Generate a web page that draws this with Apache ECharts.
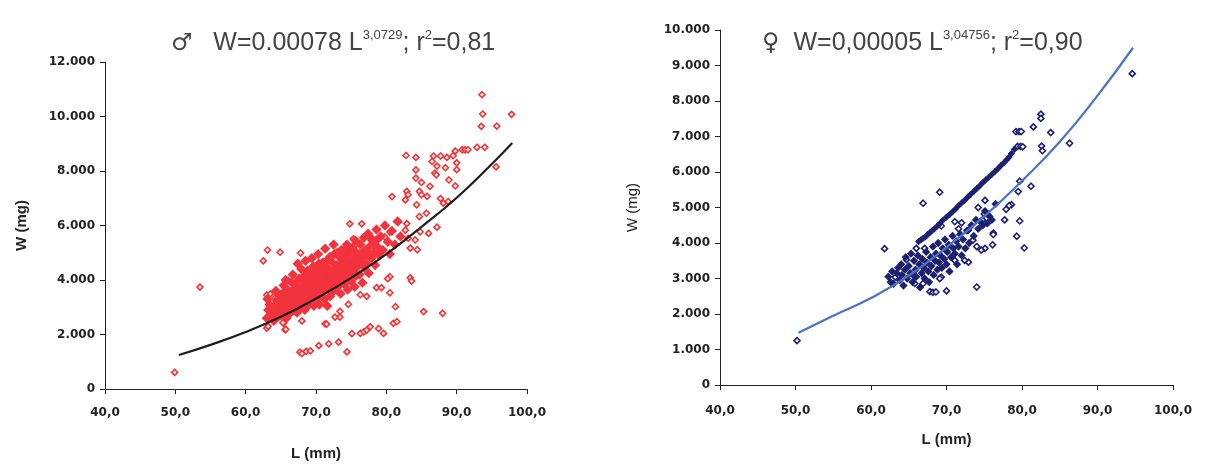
<!DOCTYPE html>
<html>
<head>
<meta charset="utf-8">
<script src="https://cdn.jsdelivr.net/npm/echarts@6/dist/echarts.min.js"></script>
<style>
  html, body { margin: 0; padding: 0; background: #fff; }
  #chart { width: 1213px; height: 467px; }
</style>
</head>
<body>
<div id="chart"></div>
<script>
// length L (mm) / weight W (mg)

// males: fitted curve
const maleFit = [
  [50.5, 1250], [55, 1620], [60, 2090], [65, 2650], [70, 3320], [75, 4080],
  [80, 4950], [85, 5950], [90, 7020], [95, 8260], [97.9, 9030]
]

// males: outliers and the sparse points round the cloud
const maleSparse = [
  [49.9, 610], [53.5, 3740],
  [93.6, 10800], [93.7, 10090], [97.8, 10080], [93.5, 9640], [95.7, 9650],
  [92.9, 8870], [94.0, 8870], [90.8, 8780], [91.2, 8780], [91.6, 8780], [95.6, 8150],
  [82.8, 8570], [84.2, 8500], [86.7, 8550], [87.7, 8550], [89.8, 8730], [89.5, 8560],
  [90.0, 8300], [90.0, 8050], [88.6, 8500], [86.5, 8350], [87.2, 8180], [88.4, 8120],
  [84.2, 8040], [86.9, 7920], [87.1, 7860], [84.2, 7740], [85.0, 7580], [86.2, 7440],
  [88.9, 7670], [89.8, 7450], [82.9, 7250], [83.1, 7130], [84.7, 7250], [85.0, 7130],
  [85.8, 7070], [80.8, 7060], [82.7, 6940], [84.3, 6760], [87.7, 6990], [88.1, 6820],
  [88.8, 6880], [85.7, 6450], [84.7, 6330], [81.7, 6130], [82.9, 6070], [74.8, 6060],
  [76.5, 6060], [87.2, 5940], [82.7, 5830], [84.8, 5770], [80.5, 5760], [86.0, 5710],
  [79.8, 5580], [83.1, 5530], [84.1, 5470], [75.3, 5510], [83.4, 5170], [84.4, 5110],
  [83.4, 4080], [83.6, 3960], [80.5, 4120], [80.2, 4050], [81.3, 3020], [85.3, 2840],
  [88.0, 2780], [80.5, 3530], [78.6, 3720], [79.3, 3720], [76.3, 3460], [77.2, 3400],
  [74.6, 3110], [73.4, 2850], [73.4, 2640],
  [62.5, 4700], [63.1, 5100], [64.9, 5020], [67.8, 4990], [67.9, 4430], [66.1, 3980],
  [63.0, 3450], [63.5, 3490], [64.2, 3350], [63.7, 2980], [64.4, 2920], [64.0, 2960],
  [65.4, 2420], [63.0, 2230], [63.2, 2300], [65.6, 2170], [65.7, 2190], [65.3, 2430],
  [68.0, 2500], [71.3, 2390], [71.5, 2380], [72.7, 2640],
  [67.7, 1350], [68.0, 1300], [68.6, 1380], [69.2, 1400], [70.4, 1590], [71.8, 1660],
  [73.2, 1720], [74.4, 1360], [75.1, 2030], [76.3, 2040], [76.8, 2100], [77.2, 2160],
  [77.7, 2280], [78.9, 2220], [79.6, 2040], [81.0, 2410], [81.5, 2470]
]

// males: the dense cloud along the curve
const maleCloud = [
  [63.0, 2600], [63.2, 2900], [63.4, 3100], [63.1, 3300], [63.6, 2750],
  [64.0, 2500], [64.2, 2800], [64.1, 3050], [64.4, 3250], [64.3, 3600], [64.6, 2650], [64.7, 2950], [64.8, 3400],
  [65.0, 2700], [65.1, 3100], [65.2, 3500], [65.4, 3800], [65.5, 2900], [65.6, 3300], [65.8, 2600], [65.9, 3650], [65.7, 4000],
  [66.0, 3000], [66.1, 3350], [66.2, 2750], [66.4, 3150], [66.5, 3550], [66.6, 3900], [66.8, 2900], [66.9, 3300], [66.7, 4200],
  [67.0, 3100], [67.1, 3500], [67.2, 3750], [67.3, 2800], [67.5, 3250], [67.6, 4050], [67.7, 3600], [67.8, 3000], [67.9, 4400], [67.4, 4600],
  [68.0, 3350], [68.1, 3800], [68.2, 3150], [68.3, 4150], [68.4, 2900], [68.5, 3550], [68.6, 3950], [68.7, 3300], [68.8, 4350], [68.9, 3700], [68.5, 4700],
  [69.0, 3100], [69.1, 3500], [69.2, 3900], [69.3, 4250], [69.4, 3350], [69.5, 3700], [69.6, 4500], [69.7, 3050], [69.8, 4050], [69.9, 3550], [69.4, 4800],
  [70.0, 3300], [70.1, 3850], [70.2, 4200], [70.3, 3600], [70.4, 4600], [70.5, 3100], [70.6, 4000], [70.7, 3450], [70.8, 4400], [70.9, 3800], [70.3, 4950],
  [71.0, 3550], [71.1, 4100], [71.2, 3300], [71.3, 4500], [71.4, 3850], [71.5, 4250], [71.6, 3050], [71.7, 4750], [71.8, 3650], [71.9, 4050], [71.3, 5150],
  [72.0, 3400], [72.1, 4300], [72.2, 3800], [72.3, 4650], [72.4, 4050], [72.5, 3600], [72.6, 4950], [72.7, 4400], [72.8, 3900], [72.9, 4200], [72.5, 5300],
  [73.0, 4550], [73.1, 3750], [73.2, 4100], [73.3, 4850], [73.4, 4350], [73.5, 3500], [73.6, 5100], [73.7, 4000], [73.8, 4650], [73.9, 4300],
  [74.0, 3850], [74.1, 4500], [74.2, 4900], [74.3, 4200], [74.4, 5300], [74.5, 3650], [74.6, 4700], [74.7, 4050], [74.8, 5050], [74.9, 4400],
  [75.0, 3950], [75.1, 4600], [75.2, 5200], [75.3, 4300], [75.4, 4850], [75.5, 3750], [75.6, 5450], [75.7, 4150], [75.8, 5000], [75.9, 4500],
  [76.0, 4700], [76.2, 4200], [76.3, 5300], [76.5, 4900], [76.6, 3900], [76.8, 5550], [76.9, 4450],
  [77.0, 5100], [77.2, 4600], [77.4, 5700], [77.5, 4250], [77.7, 5250], [77.9, 4800],
  [78.0, 5450], [78.2, 5000], [78.4, 4550], [78.6, 5850], [78.8, 5200],
  [79.0, 4900], [79.2, 5600], [79.5, 5100], [79.8, 6000], [80.2, 5400], [80.5, 4950],
  [80.8, 5800], [81.2, 5300], [81.6, 6150], [82.0, 5600],
  [65.3, 2850], [65.9, 3150], [66.3, 3450], [66.9, 3700], [67.4, 3350], [67.9, 3250],
  [68.3, 3450], [68.8, 3050], [69.2, 3300], [69.6, 3900], [70.2, 3450], [70.6, 3700],
  [71.0, 3950], [71.4, 3650], [71.8, 4400], [72.2, 4000], [72.6, 3700], [73.0, 4250],
  [73.4, 3950], [73.8, 4450], [74.2, 4100], [74.6, 4450], [75.0, 4250], [75.4, 4600],
  [75.8, 4750], [76.2, 4950], [76.6, 4600], [77.0, 4850], [77.4, 5000], [77.8, 5550],
  [78.2, 5250], [78.6, 5450], [69.0, 4150], [70.0, 4350], [71.0, 4650], [72.0, 4850],
  [73.0, 5000], [74.0, 5100], [68.0, 4000], [67.0, 3850]
]

// females: fitted curve
const femaleFit = [
  [50.4, 1470], [55, 1950], [60, 2450], [65, 3080], [70, 3880], [75, 4750],
  [80, 5750], [85, 6850], [90, 8150], [94.7, 9500]
]

// females: sparse points
const femaleSparse = [
  [50.2, 1250], [61.8, 3840], [63.2, 3040], [66.9, 5120], [69.1, 5430],
  [82.5, 7630], [82.5, 7510], [81.5, 7270], [79.2, 7140], [79.6, 7140], [79.9, 7140],
  [83.8, 7110], [86.3, 6810], [79.4, 6720], [79.8, 6720], [80.1, 6710], [82.6, 6730],
  [82.7, 6600], [94.6, 8770], [81.2, 5600], [79.7, 5740], [79.5, 5450], [78.6, 5080],
  [75.1, 5200], [74.2, 5000], [75.5, 4770], [77.7, 4650], [79.7, 4620], [79.3, 4190],
  [80.3, 3860], [76.2, 4280], [75.1, 3850], [76.1, 3950], [74.0, 2760], [70.0, 2650],
  [67.8, 2630], [68.2, 2610], [68.6, 2620], [72.9, 3460], [65.8, 3050], [66.9, 2860],
  [65.8, 2860], [64.7, 3530], [66.0, 3850], [67.1, 3850], [69.3, 4480], [71.1, 4600],
  [72.0, 4570], [72.9, 4360], [73.5, 4080], [74.0, 3900], [74.6, 3800], [76.2, 4240],
  [74.8, 4660], [75.3, 4700], [75.0, 4820], [71.6, 4400], [71.1, 3510], [72.4, 3510],
  [69.3, 3040], [69.1, 3000], [77.9, 4950], [78.3, 5050]
]

// females: the straight string of points above the curve
const femaleString = [
  [66.3, 4040], [66.6, 4090], [66.9, 4130], [67.2, 4170], [67.5, 4240], [67.8, 4290],
  [68.1, 4350], [68.4, 4400], [68.8, 4480], [69.1, 4540], [69.5, 4640], [70.0, 4730],
  [70.4, 4800], [70.8, 4880], [71.2, 4960], [71.6, 5050], [72.0, 5130], [72.4, 5200],
  [72.8, 5290], [73.2, 5370], [73.6, 5450], [74.0, 5530], [74.4, 5610], [74.8, 5700],
  [75.2, 5780], [75.6, 5850], [76.0, 5930], [76.4, 6010], [76.8, 6090], [77.2, 6180],
  [77.6, 6260], [78.0, 6350], [78.3, 6420], [78.6, 6520], [79.0, 6640]
]

// females: the dense cloud
const femaleCloud = [
  [62.3, 3050], [62.6, 2900], [62.8, 3200], [63.0, 2850],
  [63.4, 3150], [63.6, 3300], [63.8, 2950], [64.0, 3400], [64.1, 3100], [64.3, 2800], [64.5, 3250], [64.6, 3600], [64.8, 3000],
  [65.0, 3350], [65.2, 3150], [65.3, 3700], [65.5, 2900], [65.7, 3500], [65.9, 3250], [66.0, 3050], [66.2, 3650], [66.4, 3400], [66.5, 2750], [66.7, 3150], [66.8, 3550],
  [67.0, 3300], [67.1, 3000], [67.3, 3750], [67.4, 3450], [67.6, 3200], [67.7, 2900], [67.9, 3600], [68.0, 3350], [68.2, 3900], [68.3, 3100], [68.5, 3500], [68.6, 3700], [68.8, 3250], [68.9, 4000],
  [69.0, 3450], [69.2, 3650], [69.4, 3300], [69.5, 3850], [69.7, 3550], [69.8, 4100], [70.0, 3400], [70.1, 3750], [70.3, 3950], [70.4, 3200], [70.6, 3600], [70.8, 4200], [70.9, 3850],
  [71.1, 3700], [71.3, 4050], [71.4, 3400], [71.6, 3900], [71.8, 4250], [72.0, 3650], [72.2, 4100], [72.5, 3850], [72.7, 4350],
  [73.0, 4000], [73.3, 4500], [73.6, 4200], [73.9, 4650], [74.2, 4400], [74.5, 4600], [74.8, 4500], [75.1, 4900], [75.4, 4550], [75.7, 4750], [76.0, 4650], [76.5, 5100]
]

const xTickLabel = (v) => v.toFixed(1).replace('.', ',')
const yTickLabel = (v) => String(v).replace(/\B(?=(\d{3})+(?!\d))/g, '.')

const maleColor = '#f2333d'
const femaleColor = '#1d2170'

function xAxisOf(gridIndex, gap, labelMargin) {
  return {
    gridIndex,
    type: 'value',
    min: 40,
    max: 100,
    interval: 10,
    name: 'L (mm)',
    nameLocation: 'middle',
    nameGap: gap,
    nameTextStyle: { fontFamily: 'Liberation Sans', fontSize: 15, fontWeight: 'bold', color: '#222' },
    axisLine: { lineStyle: { color: '#222', width: 1 } },
    axisTick: { length: 5, lineStyle: { color: '#222' } },
    axisLabel: {
      margin: labelMargin,
      formatter: xTickLabel,
      fontFamily: 'DejaVu Sans',
      fontSize: 12,
      fontWeight: 'bold',
      color: '#222'
    },
    splitLine: { show: false }
  }
}

function yAxisOf(gridIndex, max, interval, gap, bold) {
  return {
    gridIndex,
    type: 'value',
    min: 0,
    max,
    interval,
    name: 'W (mg)',
    nameLocation: 'middle',
    nameGap: gap,
    nameTextStyle: {
      fontFamily: 'Liberation Sans',
      fontSize: 15,
      fontWeight: bold ? 'bold' : 'normal',
      color: '#222'
    },
    axisLine: { show: true, lineStyle: { color: '#222', width: 1 } },
    axisTick: { show: true, length: 5, lineStyle: { color: '#222' } },
    axisLabel: {
      margin: 10,
      formatter: yTickLabel,
      fontFamily: 'DejaVu Sans',
      fontSize: 12,
      fontWeight: 'bold',
      color: '#222'
    },
    splitLine: { show: false }
  }
}

function points(data, xIdx, color, size, fill) {
  return {
    type: 'scatter',
    xAxisIndex: xIdx,
    yAxisIndex: xIdx,
    data,
    symbol: 'diamond',
    symbolSize: size,
    itemStyle: { color: fill, borderColor: color, borderWidth: 1.6, opacity: 1 },
    z: 2,
    silent: true
  }
}

function fitLine(data, xIdx, color) {
  return {
    type: 'line',
    xAxisIndex: xIdx,
    yAxisIndex: xIdx,
    data,
    smooth: true,
    showSymbol: false,
    lineStyle: { color, width: 2.2 },
    z: 5,
    silent: true
  }
}

const titleFont = 'Liberation Sans Narrow, Liberation Sans, sans-serif'
const titleRich = {
  sym: { fontFamily: 'DejaVu Sans', fontSize: 24, fontWeight: 'normal', color: '#444' },
  t: { fontFamily: titleFont, fontSize: 25, fontWeight: 'normal', color: '#444' },
  sup: { fontFamily: titleFont, fontSize: 13, fontWeight: 'normal', color: '#444', padding: [0, 0, 16, 0] }
}

const chart = echarts.init(document.getElementById('chart'))
chart.setOption({
  animation: false,
  backgroundColor: '#fff',
  title: [
    {
      left: 166,
      top: 24,
      text: '{sym|♂}{t|   W=0.00078 L}{sup|3,0729}{t|; r}{sup|2}{t|=0,81}',
      textStyle: { fontWeight: 'normal', rich: titleRich }
    },
    {
      left: 757,
      top: 24,
      text: '{sym|♀}{t|  W=0,00005 L}{sup|3,04756}{t|; r}{sup|2}{t|=0,90}',
      textStyle: { fontWeight: 'normal', rich: titleRich }
    }
  ],
  grid: [
    { left: 105, top: 62, width: 422, height: 327 },
    { left: 720, top: 30, width: 453, height: 355 }
  ],
  xAxis: [xAxisOf(0, 57, 18), xAxisOf(1, 47, 20)],
  yAxis: [yAxisOf(0, 12000, 2000, 76, true), yAxisOf(1, 10000, 1000, 80, false)],
  series: [
    points(maleSparse, 0, maleColor, 6, '#fff6d8'),
    points(maleCloud, 0, maleColor, 8, maleColor),
    fitLine(maleFit, 0, '#1e1e1e'),
    points(femaleSparse, 1, femaleColor, 6, '#fff'),
    points(femaleString, 1, femaleColor, 5, femaleColor),
    points(femaleCloud, 1, femaleColor, 6, femaleColor),
    fitLine(femaleFit, 1, '#4a72c6')
  ]
})
</script>
</body>
</html>
